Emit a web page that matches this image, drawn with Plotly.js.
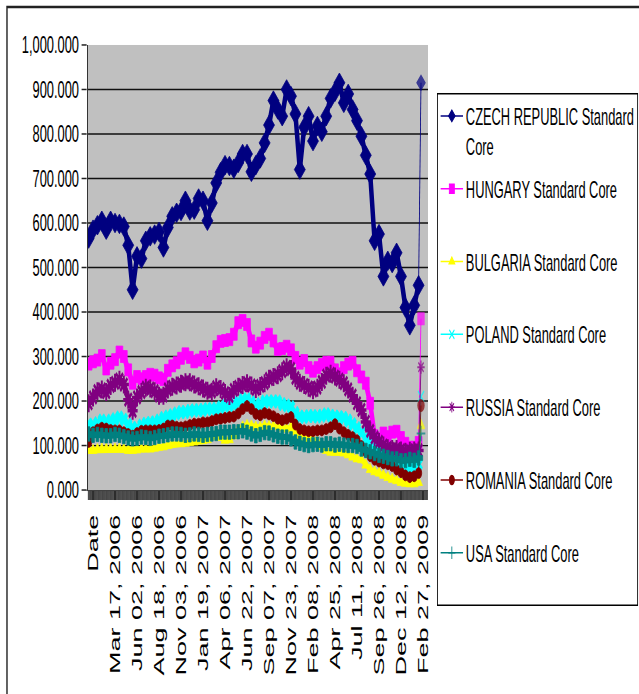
<!DOCTYPE html>
<html><head><meta charset="utf-8">
<script src="https://cdn.plot.ly/plotly-3.0.1.min.js"></script>
<style>
html,body{margin:0;padding:0;overflow:hidden;background:#fff;width:639px;height:694px;}
#wrap{position:absolute;left:0;top:0;width:639px;height:694px;overflow:hidden;}
#chart{position:absolute;left:0;top:0;width:1200px;height:694px;transform:scaleX(0.56);transform-origin:0 0;}
</style></head><body><div id="wrap"><div id="chart"></div></div>
<script>
// Category positions (business-day index; "Date" header row = 0)
const tickPos = [0,55,110,165,220,275,330,385,440,495,550,605,660,715,770,825];
const tickLabels = ["Date","Mar 17, 2006","Jun 02, 2006","Aug 18, 2006","Nov 03, 2006","Jan 19, 2007","Apr 06, 2007","Jun 22, 2007","Sep 07, 2007","Nov 23, 2007","Feb 08, 2008","Apr 25, 2008","Jul 11, 2008","Sep 26, 2008","Dec 12, 2008","Feb 27, 2009"];
const day = [-11,0,11,22,33,44,55,66,77,88,99,110,121,132,143,154,165,176,187,198,209,220,231,242,253,264,275,286,297,308,319,330,341,352,363,374,385,396,407,418,429,440,451,462,473,484,495,506,517,528,539,550,561,572,583,594,605,616,627,638,649,660,671,682,693,704,715,726,737,748,759,770,781,792,803,814,820];

const czech = [565,585,595,605,585,605,600,598,592,550,
 450,525,520,560,570,574,580,545,590,615,
 623,627,650,628,630,655,650,605,645,690,
 714,730,728,722,735,755,755,715,730,745,
 780,820,875,855,840,900,885,845,720,815,
 840,784,818,805,840,880,895,915,870,890,
 855,830,795,752,710,560,575,480,515,510,
 533,480,410,370,415,460,915];
const hungary = [283,288,292,302,272,285,293,310,300,270,
 240,255,250,255,260,258,252,248,269,279,
 286,296,306,298,288,292,299,285,300,322,
 334,336,338,350,376,381,372,335,321,330,
 343,350,335,316,318,323,315,298,285,291,
 275,267,275,282,287,287,270,261,275,283,
 287,268,254,240,195,122,116,128,120,130,
 132,118,105,96,96,107,385];
const bulgaria = [89,89,91,92,92,92,92,92,91,89,
 89,90,92,92,92,94,96,97,100,103,
 104,104,105,107,108,110,111,113,120,128,
 118,112,113,122,135,142,145,144,141,141,
 144,143,143,144,140,137,141,131,121,116,
 115,113,108,98,89,85,85,85,83,79,
 74,70,68,56,46,41,38,33,28,24,
 21,17,15,14,14,17,145];
const poland = [147,145,150,156,152,156,159,163,158,147,
 140,138,145,149,151,152,156,162,165,168,
 172,175,175,178,179,179,180,182,182,182,
 186,189,190,192,197,202,204,197,190,193,
 199,199,199,199,193,190,186,173,165,164,
 166,166,165,167,170,167,165,164,162,156,
 148,139,129,116,106,101,95,90,88,83,
 76,66,53,48,50,58,210];
const russia = [195,208,222,226,220,234,241,248,237,203,
 178,208,220,230,228,222,212,212,226,232,
 235,239,242,242,237,233,228,223,221,231,
 227,218,211,225,232,236,240,235,227,234,
 240,250,254,258,267,276,272,252,241,236,
 230,224,230,243,257,261,255,248,240,226,
 212,195,180,153,133,118,108,100,94,92,
 92,89,86,88,89,89,276];
const romania = [108,130,136,140,138,135,134,134,130,126,
 122,128,133,134,134,134,135,138,145,145,
 142,141,143,146,149,149,152,152,155,159,
 160,162,164,165,172,182,189,182,171,168,
 173,170,166,160,157,160,164,147,137,134,
 132,132,134,134,137,141,148,138,130,124,
 119,112,99,86,76,68,64,60,58,54,
 46,40,33,29,31,38,190];
const usa = [126,123,125,123,122,122,125,123,120,117,
 115,116,119,118,116,118,121,122,124,126,
 126,125,123,124,126,125,123,125,126,127,
 130,130,130,131,131,133,130,126,122,125,
 129,128,124,121,119,119,115,108,105,102,
 100,102,103,101,104,104,101,103,101,100,
 100,98,92,89,86,82,78,76,73,70,
 70,66,66,69,67,72,127];

const seriesNames = ["CZECH REPUBLIC Standard<br>Core","HUNGARY Standard Core<br> ","BULGARIA Standard Core<br> ","POLAND Standard Core<br> ","RUSSIA Standard Core<br> ","ROMANIA Standard Core<br> ","USA Standard Core<br> "];
const seriesData = [czech,hungary,bulgaria,poland,russia,romania,usa];
const colors = ["#000080","#ff00ff","#ffff00","#00ffff","#800080","#800000","#008080"];
const plotSymbols = ["diamond","square","triangle-up","x","asterisk-open","circle","cross"];
const plotSizes = [15,12,12,12,15,11,12];
const bandWidths = [8,8,6,6,8,6,6];
const legendSymbols = ["diamond","square","triangle-up","x-thin-open","asterisk-open","circle","cross-thin-open"];

const traces = [];
seriesData.forEach((vals,i)=>{
  const n = vals.length;
  // main band (all points except the final row)
  traces.push({x:day.slice(0,n-1), y:vals.slice(0,n-1), type:'scatter', mode:'lines+markers', showlegend:false, hoverinfo:'skip',
    line:{color:colors[i], width:bandWidths[i]},
    marker:{symbol:plotSymbols[i], size:plotSizes[i], color:colors[i], line:{color:colors[i], width: plotSymbols[i].endsWith('open')?3.5:1}}});
  // final row joined with a thin line
  traces.push({x:day.slice(n-2), y:vals.slice(n-2), type:'scatter', mode:'lines+markers', showlegend:false, hoverinfo:'skip',
    line:{color:colors[i], width:1.5},
    marker:{symbol:legendSymbols[i], size:[0,11], color:colors[i], line:{color:colors[i], width:2}}});
});
seriesData.forEach((vals,i)=>{
  traces.push({x:[null], y:[null], type:'scatter', mode:'lines+markers', name:seriesNames[i], legendgroup:'g'+i,
    line:{color:colors[i], width:1.5},
    marker:{symbol:legendSymbols[i], size:9, color:colors[i], line:{color:colors[i], width:1.5}}});
});

const layout = {
  width:1200, height:694, margin:{l:0,r:0,t:0,b:0,pad:0},
  paper_bgcolor:'#ffffff', plot_bgcolor:'#c0c0c0',
  font:{family:'Liberation Sans, Arial, sans-serif', color:'#000'},
  xaxis:{domain:[0.1310,0.6369], range:[-12.5,837.5], tickmode:'array', tickvals:tickPos, ticktext:tickLabels,
    tickangle:-90, tickfont:{size:27, color:'#000'}, ticks:'outside', ticklen:9, tickcolor:'#000', tickwidth:1,
    ticklabelstandoff:4,
    showgrid:false, zeroline:false, showline:true, linecolor:'#000', linewidth:1,
    minor:{ticks:'outside', ticklen:9, tickcolor:'#000', tickwidth:1.2, dtick:2, tick0:0, showgrid:false},
    automargin:false, fixedrange:true},
  yaxis:{domain:[0.2939,0.9352], range:[0,1000], dtick:100, tick0:0, tickformat:',.3f', tickfont:{size:23, color:'#000'},
    ticks:'outside', ticklen:9, tickcolor:'#222', tickwidth:1.5, showgrid:true, gridcolor:'#111', gridwidth:1.3,
    zeroline:false, showline:true, linecolor:'#333', linewidth:2.5, automargin:false, fixedrange:true},
  legend:{x:0.6503, y:0.866, xanchor:'left', yanchor:'top', bgcolor:'#ffffff', bordercolor:'#000', borderwidth:1.5,
    font:{size:23, color:'#000'}, valign:'top', tracegroupgap:10, itemwidth:40},
  shapes:[{type:'rect', xref:'paper', yref:'paper', x0:0.0104, x1:1.3, y0:-0.3, y1:0.9899, line:{color:'#222', width:2.5}, layer:'below'}]
};
Plotly.newPlot('chart', traces, layout, {staticPlot:true, displayModeBar:false});
</script></body></html>
